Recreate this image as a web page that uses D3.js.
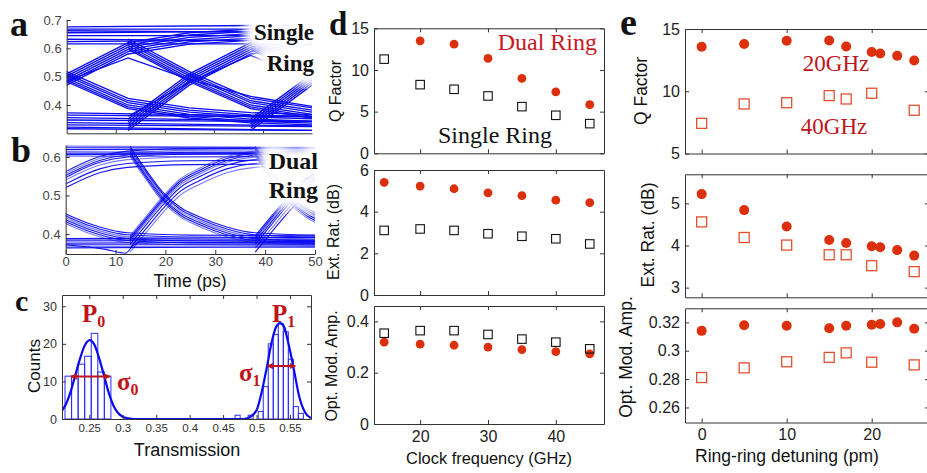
<!DOCTYPE html>
<html>
<head>
<meta charset="utf-8">
<script src="https://d3js.org/d3.v7.min.js"></script>
<style>
  body { margin: 0; background: #fff; }
  svg { display: block; }
</style>
</head>
<body>
<div id="chart"></div>
<script>
// ---- data ----

// a: single ring eye diagram (time in ps, transmission)
const aRise = [[0,0.33],[12.5,0.49],[25,0.60],[37.5,0.635],[50,0.648],[62.5,0.655]];
const aFall = [[0,0.615],[12.5,0.50],[25,0.405],[37.5,0.372],[50,0.355],[62.5,0.348]];
const aEdges = [-12.5, 12.5, 37.5];
const aRiseShift = [0.02, 0.012, 0.004, -0.004, -0.012, -0.02];
const aFallShift = [0.018, 0.01, 0.003, -0.005, -0.012, -0.018];
const aHigh = [0.676, 0.668, 0.662, 0.655, 0.645, 0.632, 0.624, 0.616];
const aLow = [0.372, 0.364, 0.355, 0.347, 0.338, 0.33, 0.322, 0.316];
const aInner = [
  [[0,0.485],[12.5,0.566],[25,0.49],[37.5,0.43],[50,0.395]],
  [[12.5,0.36],[25,0.48],[37.5,0.575],[50,0.49]]
];

// b: dual ring eye diagram
const bRise = [[0,0.385],[3.3,0.437],[6.7,0.489],[10,0.532],[14,0.561],[19.4,0.591],[25,0.605],[37.5,0.612],[65,0.614]];
const bFall = [[0,0.612],[3.3,0.55],[6.7,0.492],[10,0.455],[14,0.429],[19.4,0.403],[25,0.388],[37.5,0.382],[65,0.38]];
const bEdges = [-12.6, 12.9, 38];
const bRiseShift = [0.01, 0.005, 0.0, -0.005, -0.012, -0.022, -0.032];
const bFallShift = [0.01, 0.005, 0.0, -0.005, -0.01, 0.015];
const bHigh = [0.628, 0.624, 0.619, 0.614, 0.61, 0.606, 0.602];
const bLow = [0.388, 0.384, 0.38, 0.376, 0.372, 0.368, 0.364];
const bDip = [[0,0.372],[8,0.36],[12,0.35],[13.5,0.37],[16,0.383]];

// c: histogram of transmission levels
const h0Edges = [0.2137, 0.2235, 0.2333, 0.2431, 0.2529, 0.2627, 0.2725];
const h0Width = 0.0098;
const h0Counts = [11.4, 11.4, 14.6, 16.7, 22.8, 12.5, 11.4];
const h1Edges = [0.468, 0.4875, 0.5025, 0.51, 0.5175, 0.525, 0.5325, 0.54, 0.5475, 0.555, 0.5625];
const h1Width = 0.0075;
const h1Counts = [1, 1, 2, 8.6, 20, 22.5, 25.4, 23.2, 15.9, 3.3, 1.5];
const fitCurve = [[0.2092,2.2],[0.215,3.9],[0.222,7.2],[0.229,11.6],[0.236,16],[0.243,19.5],[0.251,21],
  [0.258,19.6],[0.265,16],[0.272,11.6],[0.279,7.0],[0.286,3.6],[0.293,1.6],[0.3,0.6],[0.308,0.2],[0.318,0],
  [0.4,0],[0.48,0],[0.49,0.5],[0.5,2.3],[0.5077,7.2],[0.5152,13.6],[0.5226,20.4],[0.529,24.4],[0.535,25.5],
  [0.541,24.6],[0.5475,20.2],[0.556,13],[0.5635,6.2],[0.5724,1.8],[0.58,0.4],[0.5814,0.3]];
const sigma0Span = [0.2226, 0.281, 11.3];
const sigma1Span = [0.5161, 0.558, 14.1];

// d: versus clock frequency (GHz)
const dFreq = [14.7, 20, 25, 30, 35, 40, 45];
const dQDual = [null, 13.5, 13.1, 11.4, 9.0, 7.36, 5.84];
const dQSingle = [11.3, 8.24, 7.68, 6.88, 5.6, 4.56, 3.56];
const dERDual = [5.41, 5.23, 5.1, 4.9, 4.77, 4.55, 4.43];
const dERSingle = [3.1, 3.17, 3.1, 2.94, 2.82, 2.7, 2.45];
const dOMADual = [0.319, 0.311, 0.307, 0.3, 0.29, 0.282, 0.273];
const dOMASingle = [0.354, 0.364, 0.364, 0.349, 0.331, 0.319, 0.293];

// e: versus ring-ring detuning (pm)
const eDet20 = [0, 5, 10, 15, 17, 20, 21, 23, 25];
const eDet40 = [0, 5, 10, 15, 17, 20, 25];
const eQ20 = [13.57, 13.79, 14.06, 14.08, 13.6, 13.15, 13.03, 12.85, 12.47];
const eQ40 = [7.42, 8.98, 9.08, 9.65, 9.38, 9.84, 8.47];
const eER20 = [5.22, 4.84, 4.45, 4.13, 4.06, 3.98, 3.96, 3.89, 3.76];
const eER40 = [4.56, 4.19, 4.01, 3.78, 3.78, 3.52, 3.38];
const eOMA20 = [0.314, 0.318, 0.3176, 0.3158, 0.3176, 0.3183, 0.3188, 0.32, 0.3155];
const eOMA40 = [0.2811, 0.2879, 0.2922, 0.2953, 0.2985, 0.2919, 0.29];

// ---- drawing ----
const SANS = "'Liberation Sans', Arial, sans-serif";
const SERIF = "'Liberation Serif', 'Times New Roman', serif";
const AX = "#333";
const RED = "#dc2f0b";
const DARKRED = "#c0141b";
const BLUE = "#0a0af0";

const svg = d3.select("#chart").append("svg")
  .attr("width", 927).attr("height", 473);

const defs = svg.append("defs");
defs.append("filter").attr("id", "halo")
  .attr("x", "-50%").attr("y", "-50%").attr("width", "200%").attr("height", "200%")
  .append("feGaussianBlur").attr("stdDeviation", 5);
defs.append("marker").attr("id", "arr")
  .attr("viewBox", "0 0 10 10").attr("refX", 9).attr("refY", 5)
  .attr("markerWidth", 3.2).attr("markerHeight", 3.2).attr("orient", "auto-start-reverse")
  .append("path").attr("d", "M0,0L10,5L0,10z").attr("fill", DARKRED);

function style(sel, size, color) {
  sel.select(".domain").attr("stroke", AX);
  sel.selectAll(".tick line").attr("stroke", AX);
  sel.selectAll("text").attr("font-family", SANS).attr("font-size", size).attr("fill", color || "#222");
}

// box with inward ticks on all four sides (matlab style)
function axes(g, x, y, o) {
  const [y0, y1] = y.range();
  const [x0, x1] = x.range();
  const fs = o.fs || 16;
  g.append("g").attr("transform", `translate(0,${y0})`)
    .call(d3.axisBottom(x).tickValues(o.xt).tickSize(-4).tickSizeOuter(0)
      .tickPadding(o.xpad || 6).tickFormat(o.xl ? (o.xf || d3.format("")) : ""))
    .call(s => style(s, o.xfs || fs, o.tc));
  g.append("g").attr("transform", `translate(${x0},0)`)
    .call(d3.axisLeft(y).tickValues(o.yt).tickSize(-4).tickSizeOuter(0)
      .tickPadding(o.ypad || 5).tickFormat(o.yf || d3.format("")))
    .call(s => style(s, o.yfs || fs, o.tc));
  if (o.box !== false) {
    g.append("g").attr("transform", `translate(0,${y1})`)
      .call(d3.axisTop(x).tickValues(o.xt).tickSize(-4).tickSizeOuter(0).tickFormat(""))
      .call(s => style(s, fs));
    g.append("g").attr("transform", `translate(${x1},0)`)
      .call(d3.axisRight(y).tickValues(o.yt).tickSize(-4).tickSizeOuter(0).tickFormat(""))
      .call(s => style(s, fs));
  }
}

function ylabel(txt, x, y, size) {
  svg.append("text").attr("transform", `translate(${x},${y}) rotate(-90)`)
    .attr("text-anchor", "middle").attr("font-family", SANS).attr("font-size", size)
    .attr("fill", "#111").text(txt);
}
function xlabel(txt, x, y, size) {
  svg.append("text").attr("x", x).attr("y", y)
    .attr("text-anchor", "middle").attr("font-family", SANS).attr("font-size", size)
    .attr("fill", "#111").text(txt);
}
function letter(txt, x, y, size) {
  svg.append("text").attr("x", x).attr("y", y).attr("font-family", SERIF)
    .attr("font-weight", "bold").attr("font-size", size).attr("fill", "#111").text(txt);
}

function clip(id, x, y) {
  defs.append("clipPath").attr("id", id).append("rect")
    .attr("x", x.range()[0]).attr("y", y.range()[1])
    .attr("width", x.range()[1] - x.range()[0]).attr("height", y.range()[0] - y.range()[1]);
}

function shifted(shape, starts, shifts) {
  const out = [];
  starts.forEach(s => shifts.forEach(dv => out.push(shape.map(([t, v]) => [s + t, v + dv]))));
  return out;
}

function haloText(lines, xr, ys, size) {
  const g = svg.append("g");
  lines.forEach((t, i) => {
    g.append("text").attr("x", xr).attr("y", ys[i]).attr("text-anchor", "end")
      .attr("font-family", SERIF).attr("font-weight", "bold").attr("font-size", size)
      .attr("fill", "#fff").attr("stroke", "#fff").attr("stroke-width", 22)
      .attr("stroke-linejoin", "round").attr("filter", "url(#halo)").text(t);
  });
  lines.forEach((t, i) => {
    g.append("text").attr("x", xr).attr("y", ys[i]).attr("text-anchor", "end")
      .attr("font-family", SERIF).attr("font-weight", "bold").attr("font-size", size)
      .attr("fill", "#111").text(t);
  });
}

// ===== panel a =====
{
  const x = d3.scaleLinear().domain([0, 50]).range([66.7, 312]);
  const y = d3.scaleLinear().domain([0.3, 0.7]).range([133.3, 20]);
  clip("clipA", x, y);
  const traces = [
    ...aHigh.map((v, i) => [[0, v], [50, v - (i % 3 - 1) * 0.006]]),
    ...aLow.map((v, i) => [[0, v], [50, v - 0.012 + (i % 2) * 0.006]]),
    ...shifted(aRise, aEdges, aRiseShift),
    ...shifted(aFall, aEdges, aFallShift),
    ...aInner
  ];
  const line = d3.line().x(d => x(d[0])).y(d => y(d[1]));
  svg.append("g").attr("clip-path", "url(#clipA)")
    .selectAll("path").data(traces).join("path")
    .attr("d", line).attr("fill", "none").attr("stroke", BLUE)
    .attr("stroke-width", 1.3);
  const g = svg.append("g");
  axes(g, x, y, { xt: [10, 20, 30, 40], yt: [0.4, 0.5, 0.6, 0.7], xl: false,
    box: false, fs: 13, tc: "#444", yf: d3.format(".1f") });
  haloText(["Single", "Ring"], 314, [40, 71], 23);
  letter("a", 10, 36, 36);
}

// ===== panel b =====
{
  const x = d3.scaleLinear().domain([0, 50]).range([65.7, 315]);
  const y = d3.scaleLinear().domain([0.348, 0.631]).range([254, 145]);
  clip("clipB", x, y);
  const traces = [
    ...bHigh.map((v, i) => [[0, v], [50, v + (i % 3 - 1) * 0.003]]),
    ...bLow.map((v, i) => [[0, v], [50, v - (i % 3 - 1) * 0.003]]),
    ...shifted(bRise, bEdges, bRiseShift),
    ...shifted(bFall, bEdges, bFallShift),
    bDip
  ];
  const line = d3.line().x(d => x(d[0])).y(d => y(d[1])).curve(d3.curveMonotoneX);
  svg.append("g").attr("clip-path", "url(#clipB)")
    .selectAll("path").data(traces).join("path")
    .attr("d", line).attr("fill", "none").attr("stroke", BLUE)
    .attr("stroke-opacity", (d, i) => i % 3 === 0 ? 0.55 : 0.95)
    .attr("stroke-width", 1.1);
  const g = svg.append("g");
  axes(g, x, y, { xt: [0, 10, 20, 30, 40, 50], yt: [0.4, 0.5, 0.6], xl: true,
    box: false, fs: 13, xfs: 13, tc: "#444", yf: d3.format(".1f"), xpad: 3 });
  xlabel("Time (ps)", 190, 287, 17.5);
  haloText(["Dual", "Ring"], 318, [169, 198], 24);
  letter("b", 11, 162, 36);
}

// ===== panel c =====
{
  const x = d3.scaleLinear().domain([0.2092, 0.5814]).range([62, 311]);
  const y = d3.scaleLinear().domain([0, 33]).range([419, 295]);
  clip("clipC", x, y);
  const bars = [
    ...h0Edges.map((e, i) => ({ x0: e, x1: e + h0Width, c: h0Counts[i] })),
    ...h1Edges.map((e, i) => ({ x0: e, x1: e + h1Width, c: h1Counts[i] }))
  ];
  const gp = svg.append("g").attr("clip-path", "url(#clipC)");
  gp.selectAll("rect").data(bars).join("rect")
    .attr("x", d => x(d.x0)).attr("width", d => x(d.x1) - x(d.x0))
    .attr("y", d => y(d.c)).attr("height", d => y(0) - y(d.c))
    .attr("fill", "none").attr("stroke", "#2a2aff").attr("stroke-width", 1);
  gp.append("path").datum(fitCurve)
    .attr("d", d3.line().x(d => x(d[0])).y(d => y(d[1])).curve(d3.curveMonotoneX))
    .attr("fill", "none").attr("stroke", BLUE).attr("stroke-width", 2.2);
  const g = svg.append("g");
  axes(g, x, y, { xt: [0.25, 0.3, 0.35, 0.4, 0.45, 0.5, 0.55], yt: [0, 10, 20, 30], xl: true,
    fs: 12.5, xfs: 11.5, tc: "#333", xf: d3.format(""), xpad: 5 });
  xlabel("Transmission", 187, 456, 18);
  ylabel("Counts", 40, 366, 17);
  [sigma0Span, sigma1Span].forEach(s => {
    svg.append("line").attr("x1", x(s[0])).attr("x2", x(s[1]))
      .attr("y1", y(s[2])).attr("y2", y(s[2]))
      .attr("stroke", DARKRED).attr("stroke-width", 2)
      .attr("marker-start", "url(#arr)").attr("marker-end", "url(#arr)");
  });
  const sym = (t, sub, px, py) => {
    const tx = svg.append("text").attr("x", px).attr("y", py).attr("font-family", SERIF)
      .attr("font-weight", "bold").attr("font-size", 25).attr("fill", DARKRED);
    tx.append("tspan").text(t);
    tx.append("tspan").attr("dy", 5).attr("font-size", 16).text(sub);
  };
  sym("P", "0", 82, 322);
  sym("σ", "0", 117, 390);
  sym("P", "1", 272, 322);
  sym("σ", "1", 239, 381);
  letter("c", 15, 311, 30);
}

// ===== panel d =====
function scatterPanel(x, y, xs1, ys1, xs2, ys2, o) {
  const g = svg.append("g");
  axes(g, x, y, o);
  const dots = xs1.map((v, i) => [v, ys1[i]]).filter(d => d[1] != null);
  const sq = xs2.map((v, i) => [v, ys2[i]]).filter(d => d[1] != null);
  g.selectAll("circle").data(dots).join("circle")
    .attr("cx", d => x(d[0])).attr("cy", d => y(d[1])).attr("r", o.r)
    .attr("fill", RED);
  g.selectAll("rect.sq").data(sq).join("rect").attr("class", "sq")
    .attr("x", d => x(d[0]) - o.s / 2).attr("y", d => y(d[1]) - o.s / 2)
    .attr("width", o.s).attr("height", o.s)
    .attr("fill", "none").attr("stroke", o.sc).attr("stroke-width", o.sw);
}
{
  const x = d3.scaleLinear().domain([13.2, 47.1]).range([374, 604]);
  const xt = [20, 30, 40];
  const base = { xt, r: 4.4, s: 8.5, sc: "#111", sw: 1.1, fs: 16, ypad: 5 };
  scatterPanel(x, d3.scaleLinear().domain([0, 15]).range([153.3, 28.3]),
    dFreq, dQDual, dFreq, dQSingle, { ...base, yt: [0, 5, 10, 15] });
  scatterPanel(x, d3.scaleLinear().domain([0, 6]).range([295, 170]),
    dFreq, dERDual, dFreq, dERSingle, { ...base, yt: [0, 2, 4, 6] });
  scatterPanel(x, d3.scaleLinear().domain([0, 0.46]).range([424, 306]),
    dFreq, dOMADual, dFreq, dOMASingle,
    { ...base, yt: [0, 0.2, 0.4], xl: true, yf: d3.format(".1~f"), xpad: 7 });
  ylabel("Q Factor", 341, 91, 16);
  ylabel("Ext. Rat. (dB)", 339, 232, 16);
  ylabel("Opt. Mod. Amp.", 337, 366, 16);
  xlabel("Clock frequency (GHz)", 489, 464, 16.4);
  svg.append("text").attr("x", 597).attr("y", 50).attr("text-anchor", "end")
    .attr("font-family", SERIF).attr("font-size", 24).attr("fill", "#c8171e").text("Dual Ring");
  svg.append("text").attr("x", 495).attr("y", 143).attr("text-anchor", "middle")
    .attr("font-family", SERIF).attr("font-size", 24).attr("fill", "#111").text("Single Ring");
  letter("d", 329, 35, 33);
}

// ===== panel e =====
{
  const x = d3.scaleLinear().domain([-1.96, 26.74]).range([685, 929]);
  const xt = [0, 10, 20];
  const base = { xt, r: 5, s: 10, sc: "#e4502f", sw: 1.3, fs: 16, ypad: 5 };
  scatterPanel(x, d3.scaleLinear().domain([5, 15]).range([153.5, 29]),
    eDet20, eQ20, eDet40, eQ40, { ...base, yt: [5, 10, 15] });
  scatterPanel(x, d3.scaleLinear().domain([2.77, 5.69]).range([297.3, 174.3]),
    eDet20, eER20, eDet40, eER40, { ...base, yt: [3, 4, 5] });
  scatterPanel(x, d3.scaleLinear().domain([0.2494, 0.3299]).range([422.5, 308.3]),
    eDet20, eOMA20, eDet40, eOMA40,
    { ...base, yt: [0.26, 0.28, 0.3, 0.32], xl: true, yf: d3.format(".2~f"), xpad: 6 });
  ylabel("Q Factor", 647, 91, 17.5);
  ylabel("Ext. Rat. (dB)", 654, 235, 17.5);
  ylabel("Opt. Mod. Amp.", 632, 357, 17.5);
  xlabel("Ring-ring detuning (pm)", 787, 462, 17.5);
  svg.append("text").attr("x", 836).attr("y", 71).attr("text-anchor", "middle")
    .attr("font-family", SERIF).attr("font-size", 23).attr("fill", DARKRED).text("20GHz");
  svg.append("text").attr("x", 834).attr("y", 134).attr("text-anchor", "middle")
    .attr("font-family", SERIF).attr("font-size", 23).attr("fill", DARKRED).text("40GHz");
  letter("e", 620, 35, 38);
}
</script>
</body>
</html>
